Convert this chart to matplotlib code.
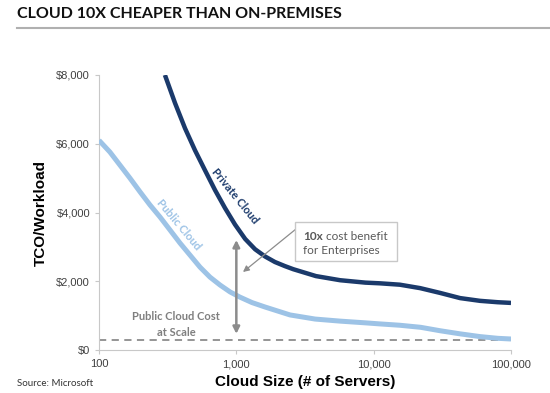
import matplotlib.pyplot as plt
from matplotlib.patches import Rectangle, FancyArrowPatch
from matplotlib.text import Annotation
from matplotlib.ticker import FuncFormatter

# values (servers -> TCO per workload, $)
public_servers = [100, 120, 142, 168, 199, 235, 278, 329, 389, 460, 544, 643, 761, 900,
                  1060, 1300, 1620, 2460, 3750, 5700, 8700, 11000, 15500, 22000, 30500,
                  42600, 59500, 80000, 100000]
public_tco = [6100, 5760, 5380, 5000, 4600, 4220, 3870, 3490, 3110, 2760, 2410, 2120,
              1890, 1690, 1540, 1380, 1250, 1020, 900, 840, 790, 760, 720, 660, 560,
              470, 390, 340, 320]

private_servers = [302, 358, 423, 500, 591, 700, 827, 978, 1160, 1370, 1620, 1910, 2260,
                   2600, 3800, 5700, 8700, 11100, 15500, 21800, 30500, 42600, 59500,
                   80000, 100000]
private_tco = [8000, 7180, 6450, 5810, 5230, 4650, 4130, 3650, 3230, 2930, 2720, 2560,
               2440, 2350, 2150, 2030, 1960, 1940, 1900, 1800, 1660, 1510, 1430, 1390,
               1370]

scale_cost = 300
x_ticks = [100, 1000, 10000, 100000]
y_ticks = [0, 2000, 4000, 6000, 8000]

navy = '#1b3a6b'
light = '#9dc3e6'
grey = '#8c8c8c'
W, H = 550, 393


def px(x, y):
    # pixel position (from top-left) -> figure fraction
    return x / W, 1 - y / H


fig = plt.figure(figsize=(5.5, 3.93), dpi=100)
ax = fig.add_axes([99 / W, 1 - 350 / H, (511 - 99) / W, (350 - 75) / H])

ax.plot(private_servers, private_tco, color=navy, lw=3.2, solid_capstyle='butt',
        solid_joinstyle='round', zorder=3)
ax.plot(public_servers, public_tco, color=light, lw=3.6, solid_capstyle='butt',
        solid_joinstyle='round', zorder=3)
ax.axhline(scale_cost, color=grey, lw=1.3, ls=(0, (4, 3)), zorder=2)

ax.set_xscale('log')
ax.set_xlim(100, 100000)
ax.set_ylim(0, 8000)
ax.set_xticks(x_ticks)
ax.set_xticks([], minor=True)
ax.set_yticks(y_ticks)
ax.xaxis.set_major_formatter(FuncFormatter(lambda v, p: f'{v:,.0f}'))
ax.yaxis.set_major_formatter(FuncFormatter(lambda v, p: f'${v:,.0f}'))
for s in ['top', 'right']:
    ax.spines[s].set_visible(False)
for s in ['left', 'bottom']:
    ax.spines[s].set_color('#c8c8c8')
ax.tick_params(axis='both', colors='#c8c8c8', labelcolor='#404040', labelsize=8,
               length=3, width=0.8)
for lab in ax.get_xticklabels() + ax.get_yticklabels():
    lab.set_family('Liberation Sans')

ax.set_xlabel('Cloud Size (# of Servers)', fontsize=11, fontweight='bold',
              family='Liberation Sans', labelpad=4)
ax.set_ylabel('TCO/Workload', fontsize=11, fontweight='bold',
              family='Liberation Sans', labelpad=6)

# curve labels
fig.text(*px(235, 196), 'Private Cloud', color=navy, fontsize=8, fontweight='bold',
         family='Lato', rotation=-51, ha='center', va='center')
fig.text(*px(179, 225), 'Public Cloud', color=light, fontsize=8, fontweight='bold',
         family='Lato', rotation=-50, ha='center', va='center')

# double arrow showing the gap
ax.annotate('', xy=(1000, 470), xytext=(1000, 3200),
            arrowprops=dict(arrowstyle='<|-|>', color=grey, lw=1.8,
                            mutation_scale=10, shrinkA=0, shrinkB=0))

fig.text(*px(176, 317), 'Public Cloud Cost', color='#7f7f7f', fontsize=8,
         fontweight='bold', family='Lato', ha='center', va='center')
fig.text(*px(176, 332), 'at Scale', color='#7f7f7f', fontsize=8,
         fontweight='bold', family='Lato', ha='center', va='center')

# 10x callout box
bx0, by0 = px(295, 261)
fig.patches.append(Rectangle((bx0, by0), 102 / W, 39 / H, transform=fig.transFigure,
                             facecolor='white', edgecolor='#c8c8c8', lw=1, zorder=4))
t1 = fig.text(*px(303, 236), '10x', color='#595959', fontsize=8.5, fontweight='bold',
              family='Lato', va='center', zorder=5)
fig.add_artist(Annotation(' cost benefit', xy=(1, 0.5), xycoords=t1, va='center',
                          ha='left', color='#595959', fontsize=8.5, family='Lato',
                          zorder=5))
fig.text(*px(303, 250), 'for Enterprises', color='#595959', fontsize=8.5,
         family='Lato', va='center', zorder=5)
fig.add_artist(FancyArrowPatch(px(296, 229), px(243, 272), transform=fig.transFigure,
                               arrowstyle='-|>', mutation_scale=9, color=grey, lw=0.9,
                               shrinkA=0, shrinkB=0))

# title and rule
fig.text(*px(17, 14), 'CLOUD 10X CHEAPER THAN ON-PREMISES', fontsize=11.5,
         fontweight='bold', family='Lato', color='#111111', va='center')
fig.add_artist(plt.Line2D([17 / W, 1], [1 - 28 / H] * 2, transform=fig.transFigure,
                          color='#b0b0b0', lw=1.5))

fig.text(*px(17, 383), 'Source: Microsoft', fontsize=7, family='Lato',
         color='#333333', va='center')

fig.savefig('out.png', dpi=100)
